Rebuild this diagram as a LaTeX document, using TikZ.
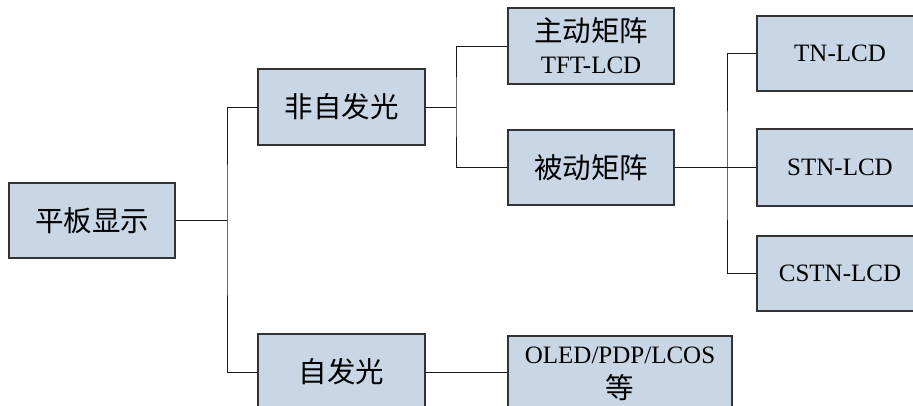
\documentclass[tikz,border=0pt]{standalone}
\usepackage{fontspec}
\setmainfont{Liberation Serif}
\newfontfamily\cjk{Noto Sans CJK SC}
\definecolor{boxfill}{RGB}{201,214,229}
\begin{document}
\begin{tikzpicture}[x=1pt,y=-1pt,
  box/.style={draw=black!80, fill=boxfill, line width=1.2pt, inner sep=0pt, align=center,
              font=\fontsize{25}{32}\selectfont},
  cn/.style={font=\fontsize{28.5}{32}\selectfont\cjk},
  link/.style={draw=black!90, line width=0.9pt}]
\useasboundingbox (0,0) rectangle (913,406);
\clip (0,0) rectangle (913,406);
% boxes
\node[box, cn, minimum width=166pt, minimum height=75pt] (root) at (92,220.5) {平板显示};
\node[box, cn, minimum width=167pt, minimum height=76pt] (nz) at (341.5,107) {非自发光};
\node[box, cn, minimum width=167pt, minimum height=76pt] (z) at (341.5,372) {自发光};
\node[box, minimum width=166pt, minimum height=76pt] (zd) at (591,46)
  {{\fontsize{28.5}{32}\selectfont\cjk 主动矩阵}\\TFT-LCD};
\node[box, cn, minimum width=166pt, minimum height=75pt] (bd) at (591,167.5) {被动矩阵};
\node[box, minimum width=166pt, minimum height=75pt] (tn) at (840,53.5) {TN-LCD};
\node[box, minimum width=166pt, minimum height=77pt] (stn) at (840,167.5) {STN-LCD};
\node[box, minimum width=166pt, minimum height=75pt] (cstn) at (840,273.5) {CSTN-LCD};
\node[box, minimum width=224pt, minimum height=76pt, font=\fontsize{25}{35}\selectfont] (oled) at (620,374)
  {OLED/PDP/LCOS\\{\fontsize{28.5}{35}\selectfont\cjk 等}};
% junctions
\coordinate (j1) at (227,220.5);
\coordinate (j2) at (456,107);
\coordinate (j3) at (727,167.5);
% connectors
\draw[link] (root.east) -- (j1);
\draw[link] (nz.west) -| (j1) |- (z.west);
\draw[link] (nz.east) -- (j2);
\draw[link] (zd.west) -| (j2) |- (bd.west);
\draw[link] (bd.east) -- (stn.west);
\draw[link] (tn.west) -| (j3) |- (cstn.west);
\draw[link] (z.east) -- (z.east -| oled.west);
\end{tikzpicture}
\end{document}
